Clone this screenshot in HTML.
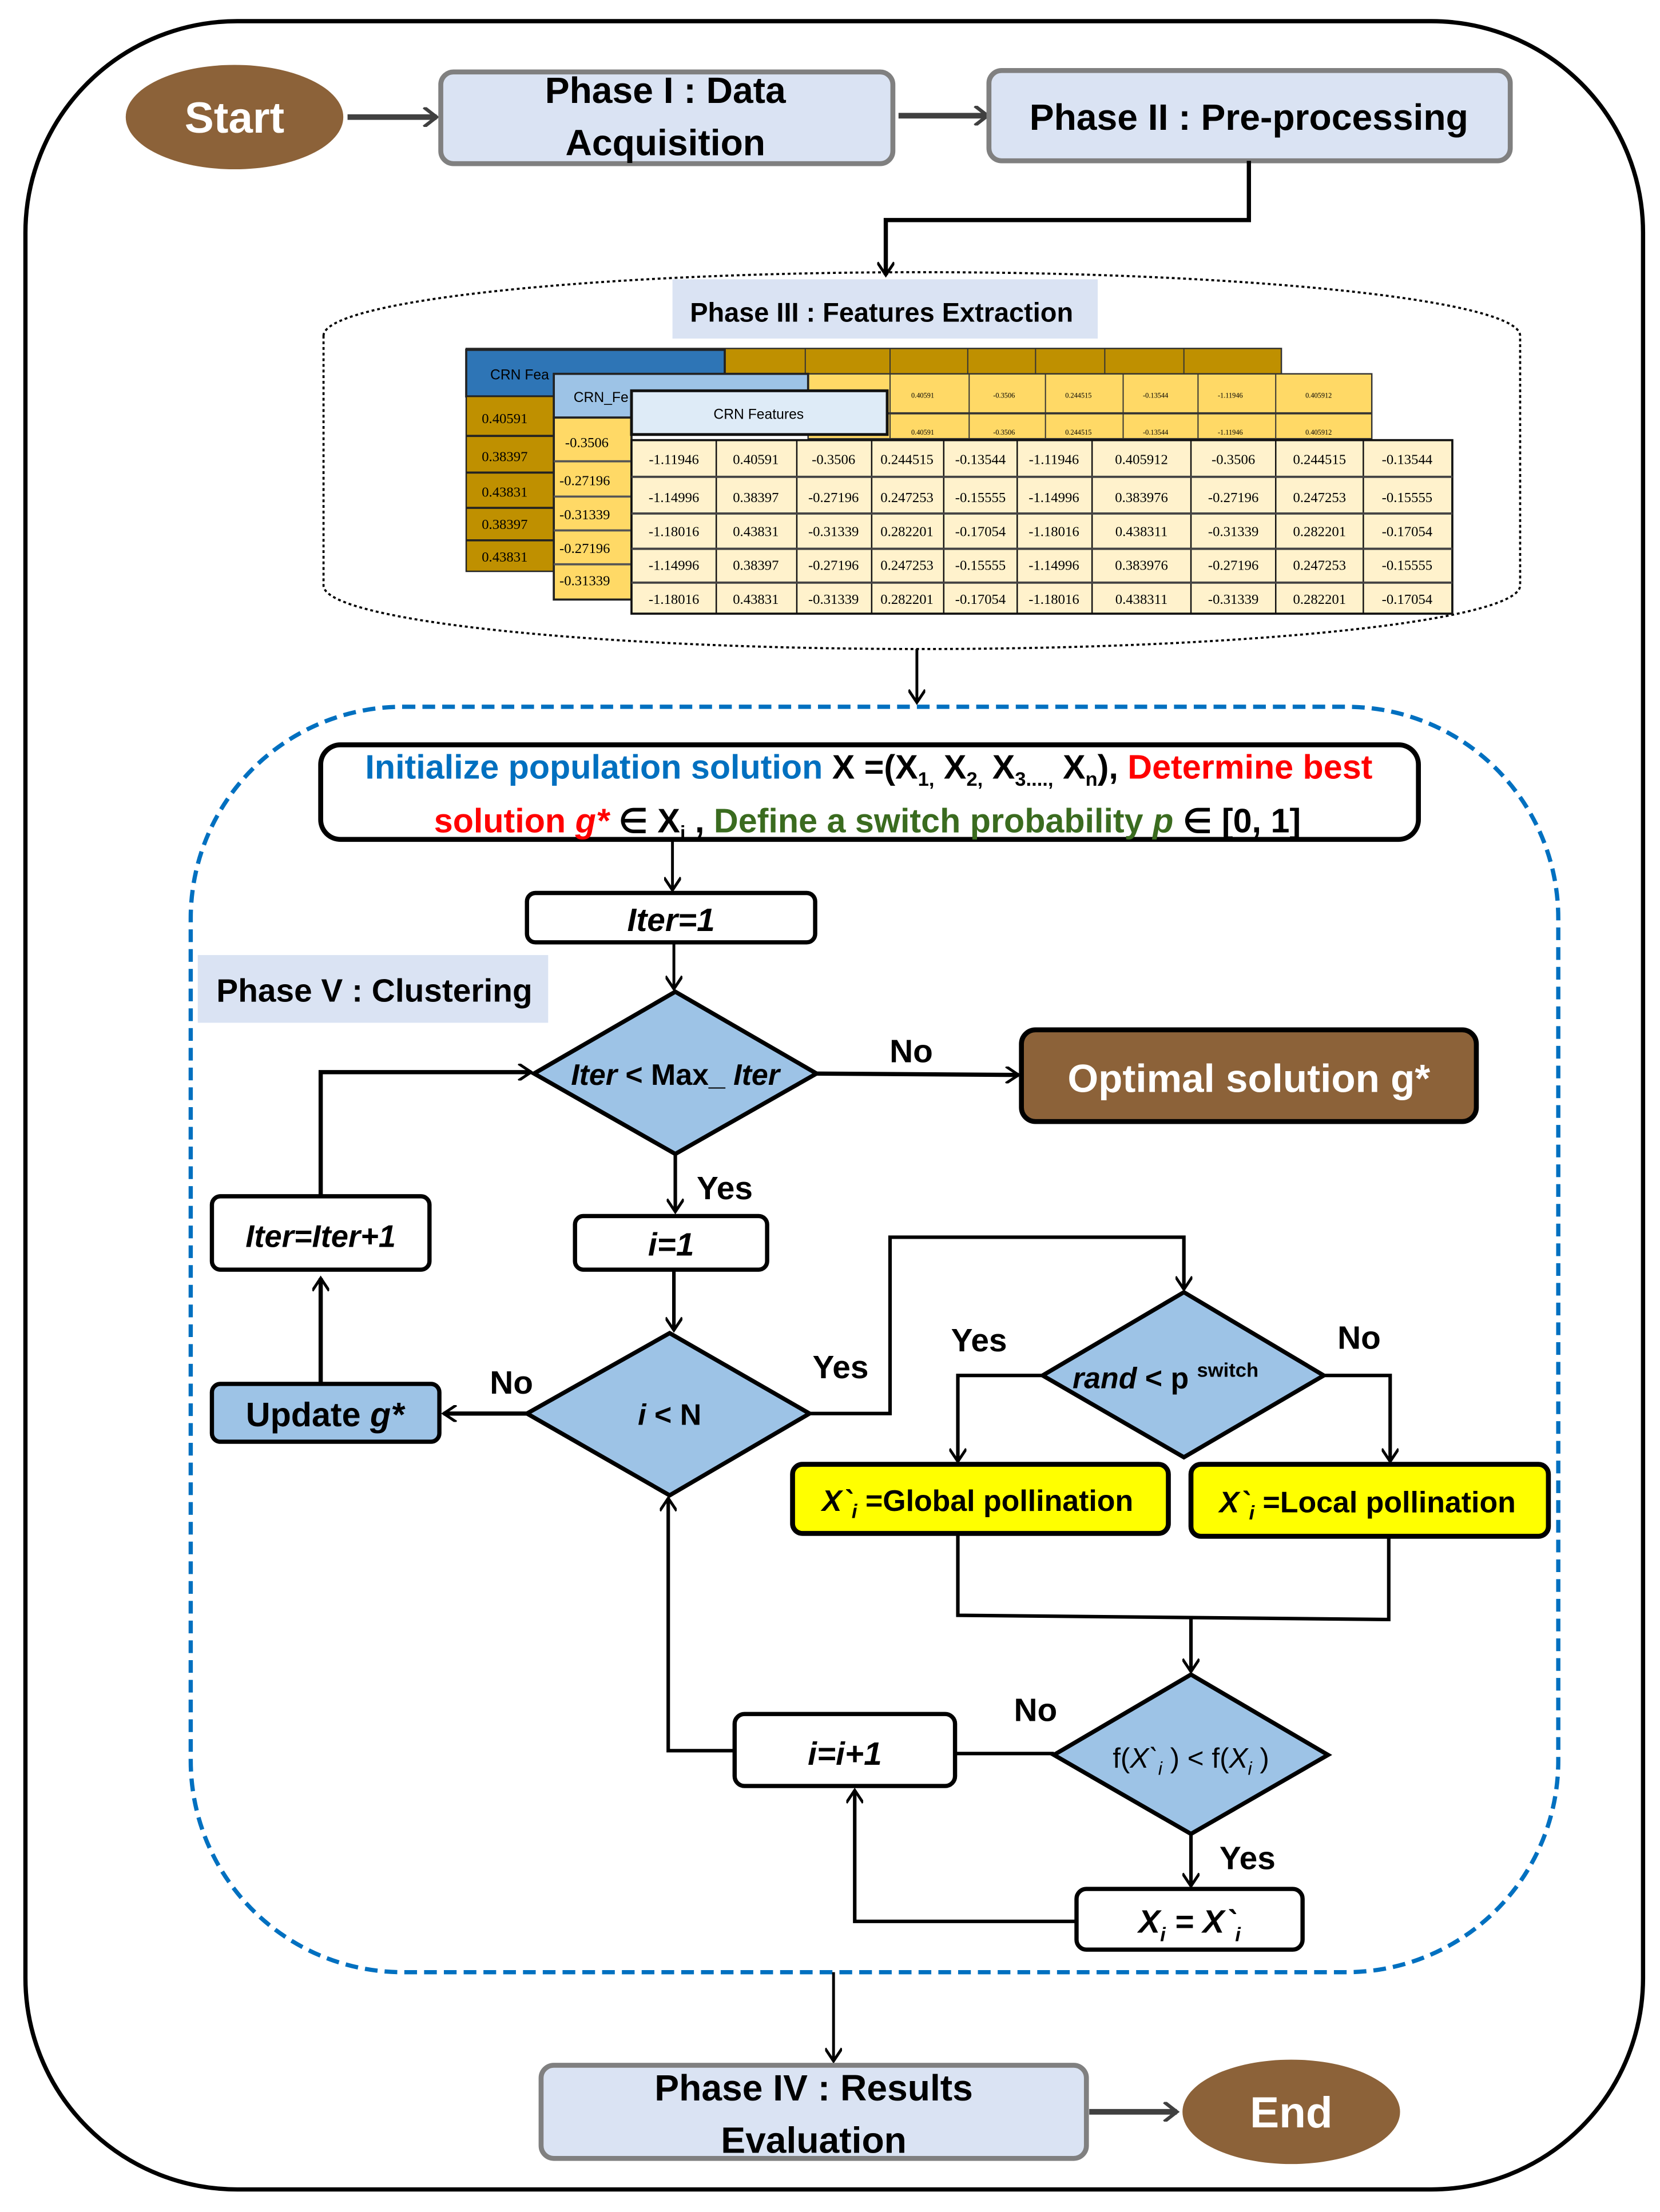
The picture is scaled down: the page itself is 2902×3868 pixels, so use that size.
<!DOCTYPE html>
<html><head><meta charset="utf-8"><style>
html,body{margin:0;padding:0;background:#fff}
svg{display:block}
text{font-family:"Liberation Sans",sans-serif;font-weight:bold}
.s{font-family:"Liberation Serif",serif;font-weight:normal;font-size:10px}
.t{font-family:"Liberation Serif",serif;font-weight:normal;font-size:5px}
</style></head><body>
<svg width="2902" height="3868" viewBox="0 0 1175 1568" preserveAspectRatio="none" xmlns="http://www.w3.org/2000/svg">
<defs>
<marker id="a" markerWidth="12" markerHeight="12" refX="10" refY="6" orient="auto" markerUnits="userSpaceOnUse">
<path d="M1,0 L10,6 L1,12" fill="none" stroke="#000" stroke-width="2"/></marker>
<marker id="g" markerWidth="12" markerHeight="14" refX="10" refY="7" orient="auto" markerUnits="userSpaceOnUse">
<path d="M1,0 L10,7 L1,14" fill="none" stroke="#404040" stroke-width="2.5"/></marker>
</defs>
<!-- outer -->
<rect x="18" y="15" width="1145" height="1537" rx="150" ry="150" fill="none" stroke="#000" stroke-width="3"/>
<!-- top row -->
<ellipse cx="166" cy="83" rx="77" ry="37" fill="#8c6239"/>
<text x="166" y="94" fill="#fff" font-size="31" text-anchor="middle">Start</text>
<line x1="246" y1="83" x2="309" y2="83" stroke="#404040" stroke-width="4" marker-end="url(#g)"/>
<rect x="312" y="51" width="320" height="65" rx="9" fill="#dae3f3" stroke="#808080" stroke-width="3.5"/>
<text x="471" y="73" font-size="26" text-anchor="middle">Phase I : Data</text>
<text x="471" y="110" font-size="26" text-anchor="middle">Acquisition</text>
<line x1="636" y1="82" x2="699" y2="82" stroke="#404040" stroke-width="4" marker-end="url(#g)"/>
<rect x="700" y="50" width="369" height="64" rx="9" fill="#dae3f3" stroke="#808080" stroke-width="3.5"/>
<text x="884" y="92" font-size="26" text-anchor="middle">Phase II : Pre-processing</text>
<polyline points="884,114 884,156 627,156 627,195" fill="none" stroke="#000" stroke-width="3" marker-end="url(#a)"/>
<!-- cylinder -->
<path d="M229,238 A423,45 0 0 1 1076,238 M229,238 L229,415 A423,45 0 0 0 1076,415 L1076,238" fill="none" stroke="#000" stroke-width="1.5" stroke-dasharray="2,2"/>
<rect x="476" y="198" width="301" height="42" fill="#dae3f3"/>
<text x="624" y="228" font-size="19" text-anchor="middle">Phase III : Features Extraction</text>
<!-- back table -->
<rect x="330" y="247" width="577" height="20" fill="#bf9000" stroke="#333" stroke-width="1"/>
<g stroke="#333" stroke-width="0.8"><line x1="570" y1="247" x2="570" y2="267"/><line x1="630" y1="247" x2="630" y2="267"/><line x1="685" y1="247" x2="685" y2="267"/><line x1="733" y1="247" x2="733" y2="267"/><line x1="782" y1="247" x2="782" y2="267"/><line x1="838" y1="247" x2="838" y2="267"/></g>
<rect x="330" y="248" width="183" height="33" fill="#2e75b6" stroke="#222" stroke-width="1.5"/>
<text x="347" y="269" font-size="10" font-weight="normal" style="font-weight:normal">CRN Fea</text>
<rect x="330" y="281" width="62" height="124" fill="#bf9000" stroke="#222" stroke-width="1"/>
<g stroke="#222" stroke-width="1.5"><line x1="330" y1="309" x2="392" y2="309"/><line x1="330" y1="335" x2="392" y2="335"/><line x1="330" y1="360" x2="392" y2="360"/><line x1="330" y1="383" x2="392" y2="383"/></g>
<g class="s"><text class="s" x="341" y="300">0.40591</text><text class="s" x="341" y="327">0.38397</text><text class="s" x="341" y="352">0.43831</text><text class="s" x="341" y="375">0.38397</text><text class="s" x="341" y="398">0.43831</text></g>
<!-- middle table -->
<rect x="572" y="265" width="399" height="46" fill="#ffd966" stroke="#333" stroke-width="1"/>
<g stroke="#333" stroke-width="0.8"><line x1="630" y1="265" x2="630" y2="311"/><line x1="686" y1="265" x2="686" y2="311"/><line x1="740" y1="265" x2="740" y2="311"/><line x1="795" y1="265" x2="795" y2="311"/><line x1="848" y1="265" x2="848" y2="311"/><line x1="903" y1="265" x2="903" y2="311"/><line x1="572" y1="293" x2="971" y2="293" stroke-width="1.5"/></g>
<g><text class="t" x="645" y="282">0.40591</text><text class="t" x="703" y="282">-0.3506</text><text class="t" x="754" y="282">0.244515</text><text class="t" x="809" y="282">-0.13544</text><text class="t" x="862" y="282">-1.11946</text><text class="t" x="924" y="282">0.405912</text>
<text class="t" x="645" y="308">0.40591</text><text class="t" x="703" y="308">-0.3506</text><text class="t" x="754" y="308">0.244515</text><text class="t" x="809" y="308">-0.13544</text><text class="t" x="862" y="308">-1.11946</text><text class="t" x="924" y="308">0.405912</text></g>
<rect x="392" y="265" width="180" height="31" fill="#9dc3e6" stroke="#222" stroke-width="1.5"/>
<text x="406" y="285" font-size="10" style="font-weight:normal">CRN_Fe</text>
<rect x="392" y="296" width="55" height="129" fill="#ffd966" stroke="#222" stroke-width="1.5"/>
<g stroke="#555" stroke-width="1.5"><line x1="392" y1="327" x2="447" y2="327"/><line x1="392" y1="352" x2="447" y2="352"/><line x1="392" y1="376" x2="447" y2="376"/><line x1="392" y1="400" x2="447" y2="400"/></g>
<g><text class="s" x="400" y="317">-0.3506</text><text class="s" x="396" y="344">-0.27196</text><text class="s" x="396" y="368">-0.31339</text><text class="s" x="396" y="392">-0.27196</text><text class="s" x="396" y="415">-0.31339</text></g>
<!-- front table -->
<rect x="447" y="277" width="181" height="31" fill="#deebf7" stroke="#111" stroke-width="2"/>
<text x="537" y="297" font-size="10" text-anchor="middle" style="font-weight:normal">CRN Features</text>
<rect x="447" y="312" width="581" height="123" fill="#fff2cc" stroke="#111" stroke-width="1.5"/>
<g stroke="#111" stroke-width="1"><line x1="507" y1="312" x2="507" y2="435"/><line x1="564" y1="312" x2="564" y2="435"/><line x1="617" y1="312" x2="617" y2="435"/><line x1="668" y1="312" x2="668" y2="435"/><line x1="720" y1="312" x2="720" y2="435"/><line x1="773" y1="312" x2="773" y2="435"/><line x1="843" y1="312" x2="843" y2="435"/><line x1="903" y1="312" x2="903" y2="435"/><line x1="965" y1="312" x2="965" y2="435"/></g>
<g stroke="#444" stroke-width="1.6"><line x1="447" y1="338" x2="1028" y2="338"/><line x1="447" y1="364" x2="1028" y2="364"/><line x1="447" y1="389" x2="1028" y2="389"/><line x1="447" y1="413" x2="1028" y2="413"/></g>
<g text-anchor="middle">
<text class="s" x="477" y="329" text-anchor="middle">-1.11946</text><text class="s" x="535" y="329" text-anchor="middle">0.40591</text><text class="s" x="590" y="329" text-anchor="middle">-0.3506</text><text class="s" x="642" y="329" text-anchor="middle">0.244515</text><text class="s" x="694" y="329" text-anchor="middle">-0.13544</text><text class="s" x="746" y="329" text-anchor="middle">-1.11946</text><text class="s" x="808" y="329" text-anchor="middle">0.405912</text><text class="s" x="873" y="329" text-anchor="middle">-0.3506</text><text class="s" x="934" y="329" text-anchor="middle">0.244515</text><text class="s" x="996" y="329" text-anchor="middle">-0.13544</text>
<text class="s" x="477" y="356" text-anchor="middle">-1.14996</text><text class="s" x="535" y="356" text-anchor="middle">0.38397</text><text class="s" x="590" y="356" text-anchor="middle">-0.27196</text><text class="s" x="642" y="356" text-anchor="middle">0.247253</text><text class="s" x="694" y="356" text-anchor="middle">-0.15555</text><text class="s" x="746" y="356" text-anchor="middle">-1.14996</text><text class="s" x="808" y="356" text-anchor="middle">0.383976</text><text class="s" x="873" y="356" text-anchor="middle">-0.27196</text><text class="s" x="934" y="356" text-anchor="middle">0.247253</text><text class="s" x="996" y="356" text-anchor="middle">-0.15555</text>
<text class="s" x="477" y="380" text-anchor="middle">-1.18016</text><text class="s" x="535" y="380" text-anchor="middle">0.43831</text><text class="s" x="590" y="380" text-anchor="middle">-0.31339</text><text class="s" x="642" y="380" text-anchor="middle">0.282201</text><text class="s" x="694" y="380" text-anchor="middle">-0.17054</text><text class="s" x="746" y="380" text-anchor="middle">-1.18016</text><text class="s" x="808" y="380" text-anchor="middle">0.438311</text><text class="s" x="873" y="380" text-anchor="middle">-0.31339</text><text class="s" x="934" y="380" text-anchor="middle">0.282201</text><text class="s" x="996" y="380" text-anchor="middle">-0.17054</text>
<text class="s" x="477" y="404" text-anchor="middle">-1.14996</text><text class="s" x="535" y="404" text-anchor="middle">0.38397</text><text class="s" x="590" y="404" text-anchor="middle">-0.27196</text><text class="s" x="642" y="404" text-anchor="middle">0.247253</text><text class="s" x="694" y="404" text-anchor="middle">-0.15555</text><text class="s" x="746" y="404" text-anchor="middle">-1.14996</text><text class="s" x="808" y="404" text-anchor="middle">0.383976</text><text class="s" x="873" y="404" text-anchor="middle">-0.27196</text><text class="s" x="934" y="404" text-anchor="middle">0.247253</text><text class="s" x="996" y="404" text-anchor="middle">-0.15555</text>
<text class="s" x="477" y="428" text-anchor="middle">-1.18016</text><text class="s" x="535" y="428" text-anchor="middle">0.43831</text><text class="s" x="590" y="428" text-anchor="middle">-0.31339</text><text class="s" x="642" y="428" text-anchor="middle">0.282201</text><text class="s" x="694" y="428" text-anchor="middle">-0.17054</text><text class="s" x="746" y="428" text-anchor="middle">-1.18016</text><text class="s" x="808" y="428" text-anchor="middle">0.438311</text><text class="s" x="873" y="428" text-anchor="middle">-0.31339</text><text class="s" x="934" y="428" text-anchor="middle">0.282201</text><text class="s" x="996" y="428" text-anchor="middle">-0.17054</text>
</g>
<line x1="649" y1="460" x2="649" y2="498" stroke="#000" stroke-width="2" marker-end="url(#a)"/>
<!-- clustering -->
<rect x="135" y="501" width="968" height="897" rx="150" ry="150" fill="none" stroke="#0070c0" stroke-width="3" stroke-dasharray="9,5"/>
<rect x="227" y="528" width="777" height="67" rx="14" fill="#fff" stroke="#000" stroke-width="3.5"/>
<text x="615" y="552" font-size="24" text-anchor="middle"><tspan fill="#0070c0">Initialize population solution</tspan><tspan fill="#000"> X =(X<tspan font-size="14" dy="5">1,</tspan><tspan dy="-5"> X</tspan><tspan font-size="14" dy="5">2,</tspan><tspan dy="-5"> X</tspan><tspan font-size="14" dy="5">3....,</tspan><tspan dy="-5"> X</tspan><tspan font-size="14" dy="5">n</tspan><tspan dy="-5">),</tspan></tspan><tspan fill="#ff0000"> Determine best</tspan></text>
<text x="614" y="590" font-size="24" text-anchor="middle"><tspan fill="#ff0000">solution <tspan font-style="italic">g*</tspan></tspan><tspan fill="#000"> ∈ X<tspan font-size="14" dy="5">i</tspan><tspan dy="-5"> ,</tspan></tspan><tspan fill="#3a6b1f"> Define a switch probability <tspan font-style="italic">p</tspan></tspan><tspan fill="#000"> ∈ [0, 1]</tspan></text>
<line x1="476" y1="595" x2="476" y2="631" stroke="#000" stroke-width="2" marker-end="url(#a)"/>
<rect x="373" y="633" width="204" height="35" rx="6" fill="#fff" stroke="#000" stroke-width="3"/>
<text x="475" y="660" font-size="23" font-style="italic" text-anchor="middle">Iter=1</text>
<rect x="140" y="677" width="248" height="48" fill="#dae3f3"/>
<text x="265" y="710" font-size="23" text-anchor="middle" style="font-weight:normal;font-weight:bold">Phase V : Clustering</text>
<line x1="477" y1="668" x2="477" y2="701" stroke="#000" stroke-width="2" marker-end="url(#a)"/>
<polygon points="378,761 478,703 578,761 478,818" fill="#9dc3e6" stroke="#000" stroke-width="3"/>
<text x="478" y="769" font-size="21" text-anchor="middle"><tspan font-style="italic">Iter</tspan> &lt; Max_ <tspan font-style="italic">Iter</tspan></text>
<line x1="578" y1="761" x2="721" y2="762" stroke="#000" stroke-width="3" marker-end="url(#a)"/>
<text x="645" y="753" font-size="23" text-anchor="middle">No</text>
<rect x="723" y="730" width="322" height="65" rx="10" fill="#8c6239" stroke="#000" stroke-width="3.5"/>
<text x="884" y="774" font-size="28" fill="#fff" text-anchor="middle">Optimal solution g*</text>
<line x1="478" y1="818" x2="478" y2="859" stroke="#000" stroke-width="2.5" marker-end="url(#a)"/>
<text x="513" y="850" font-size="23" text-anchor="middle">Yes</text>
<rect x="407" y="862" width="136" height="38" rx="6" fill="#fff" stroke="#000" stroke-width="3"/>
<text x="475" y="890" font-size="23" font-style="italic" text-anchor="middle">i=1</text>
<line x1="477" y1="900" x2="477" y2="943" stroke="#000" stroke-width="2.5" marker-end="url(#a)"/>
<polygon points="373,1002 474,945 573,1002 474,1060" fill="#9dc3e6" stroke="#000" stroke-width="3"/>
<text x="474" y="1010" font-size="21" text-anchor="middle"><tspan font-style="italic">i</tspan> &lt; N</text>
<line x1="373" y1="1002" x2="314" y2="1002" stroke="#000" stroke-width="3" marker-end="url(#a)"/>
<text x="362" y="988" font-size="23" text-anchor="middle">No</text>
<rect x="150" y="981" width="161" height="41" rx="6" fill="#9dc3e6" stroke="#000" stroke-width="3"/>
<text x="230" y="1011" font-size="24" text-anchor="middle">Update <tspan font-style="italic">g*</tspan></text>
<line x1="227" y1="981" x2="227" y2="906" stroke="#000" stroke-width="3" marker-end="url(#a)"/>
<rect x="150" y="848" width="154" height="52" rx="6" fill="#fff" stroke="#000" stroke-width="3"/>
<text x="227" y="884" font-size="22" font-style="italic" text-anchor="middle">Iter=Iter+1</text>
<polyline points="227,848 227,760 376,760" fill="none" stroke="#000" stroke-width="3" marker-end="url(#a)"/>
<polyline points="573,1002 630,1002 630,877 838,877 838,914" fill="none" stroke="#000" stroke-width="2.5" marker-end="url(#a)"/>
<text x="595" y="977" font-size="23" text-anchor="middle">Yes</text>
<polygon points="738,975 838,916 937,975 838,1033" fill="#9dc3e6" stroke="#000" stroke-width="3"/>
<text x="825" y="984" font-size="21" text-anchor="middle"><tspan font-style="italic">rand</tspan> &lt; p <tspan font-size="14" dy="-8">switch</tspan></text>
<polyline points="738,975 678,975 678,1036" fill="none" stroke="#000" stroke-width="2.5" marker-end="url(#a)"/>
<text x="693" y="958" font-size="23" text-anchor="middle">Yes</text>
<polyline points="937,975 984,975 984,1036" fill="none" stroke="#000" stroke-width="2.5" marker-end="url(#a)"/>
<text x="962" y="956" font-size="23" text-anchor="middle">No</text>
<rect x="561" y="1038" width="266" height="49" rx="7" fill="#ffff00" stroke="#000" stroke-width="3.5"/>
<text x="692" y="1071" font-size="21" text-anchor="middle"><tspan font-style="italic">X`</tspan><tspan font-style="italic" font-size="14" dy="5">i</tspan><tspan dy="-5"> =Global pollination</tspan></text>
<rect x="843" y="1038" width="253" height="51" rx="7" fill="#ffff00" stroke="#000" stroke-width="3.5"/>
<text x="968" y="1072" font-size="21" text-anchor="middle"><tspan font-style="italic">X`</tspan><tspan font-style="italic" font-size="14" dy="5">i</tspan><tspan dy="-5"> =Local pollination</tspan></text>
<polyline points="678,1087 678,1145 983,1148 983,1089" fill="none" stroke="#000" stroke-width="2.5"/>
<line x1="843" y1="1147" x2="843" y2="1185" stroke="#000" stroke-width="2.5" marker-end="url(#a)"/>
<polygon points="746,1244 843,1187 940,1244 843,1300" fill="#9dc3e6" stroke="#000" stroke-width="3"/>
<text x="843" y="1253" font-size="20" text-anchor="middle" style="font-weight:normal">f(<tspan font-style="italic">X`</tspan><tspan font-style="italic" font-size="13" dy="5">i</tspan><tspan dy="-5"> )  &lt;  f(</tspan><tspan font-style="italic">X</tspan><tspan font-style="italic" font-size="13" dy="5">i</tspan><tspan dy="-5"> )</tspan></text>
<line x1="746" y1="1243" x2="676" y2="1243" stroke="#000" stroke-width="2.5"/>
<text x="733" y="1220" font-size="23" text-anchor="middle">No</text>
<rect x="520" y="1215" width="156" height="51" rx="7" fill="#fff" stroke="#000" stroke-width="3"/>
<text x="598" y="1251" font-size="23" font-style="italic" text-anchor="middle">i=i+1</text>
<polyline points="520,1241 473,1241 473,1062" fill="none" stroke="#000" stroke-width="2.5" marker-end="url(#a)"/>
<line x1="843" y1="1300" x2="843" y2="1337" stroke="#000" stroke-width="2.5" marker-end="url(#a)"/>
<text x="883" y="1325" font-size="23" text-anchor="middle">Yes</text>
<rect x="762" y="1339" width="160" height="43" rx="7" fill="#fff" stroke="#000" stroke-width="3"/>
<text x="842" y="1370" font-size="23" font-style="italic" text-anchor="middle">X<tspan font-size="14" dy="6">i</tspan><tspan dy="-6"> = X`</tspan><tspan font-size="14" dy="6">i</tspan></text>
<polyline points="762,1362 605,1362 605,1269" fill="none" stroke="#000" stroke-width="2.5" marker-end="url(#a)"/>
<!-- bottom -->
<line x1="590" y1="1398" x2="590" y2="1461" stroke="#000" stroke-width="2" marker-end="url(#a)"/>
<rect x="383" y="1464" width="386" height="66" rx="9" fill="#dae3f3" stroke="#808080" stroke-width="3.5"/>
<text x="576" y="1489" font-size="26" text-anchor="middle">Phase IV : Results</text>
<text x="576" y="1526" font-size="26" text-anchor="middle">Evaluation</text>
<line x1="771" y1="1497" x2="833" y2="1497" stroke="#404040" stroke-width="4" marker-end="url(#g)"/>
<ellipse cx="914" cy="1497" rx="77" ry="37" fill="#8c6239"/>
<text x="914" y="1508" fill="#fff" font-size="31" text-anchor="middle">End</text>
</svg>
</body></html>
